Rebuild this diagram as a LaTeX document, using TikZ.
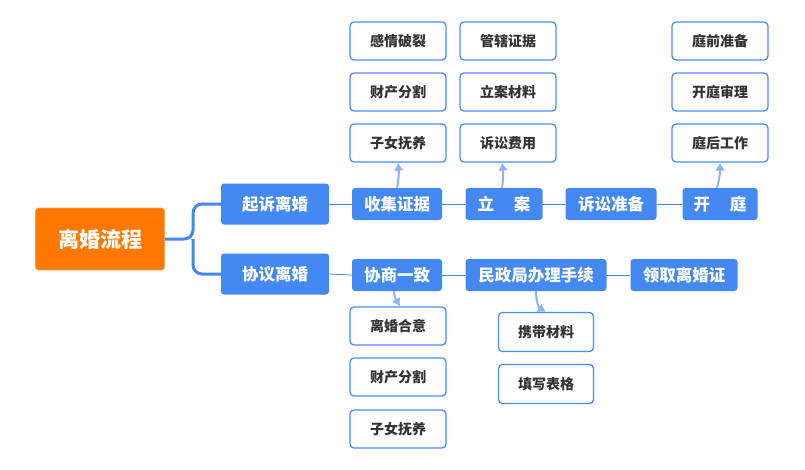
\documentclass[tikz,border=0pt]{standalone}
\usepackage{fontspec}
\setmainfont{Noto Sans CJK SC}[BoldFont={Noto Sans CJK SC Black}]
\usetikzlibrary{arrows.meta}

\definecolor{zhuLan}{HTML}{4489F2}
\definecolor{bianLan}{HTML}{4A8CF4}
\definecolor{jianLan}{HTML}{8DB2F6}
\definecolor{cheng}{HTML}{FF7800}
\definecolor{zi}{HTML}{333333}

\begin{document}
\begin{tikzpicture}[x=1pt,y=-1pt,
    every text node part/.style={align=center},
    wurzel/.style={fill=cheng,draw=cheng!70!white,line width=0.8pt,rounded corners=3pt,
      text=white,font=\fontsize{21}{24}\selectfont\bfseries,minimum width=129pt,minimum height=62pt,inner sep=0pt},
    haupt/.style={fill=zhuLan,rounded corners=3pt,text=white,
      font=\fontsize{16.5}{20}\selectfont\bfseries,minimum height=32pt,inner sep=0pt},
    unter/.style={draw=bianLan,fill=white,line width=1.3pt,rounded corners=4pt,text=zi,
      font=\fontsize{14}{17}\selectfont\bfseries,minimum width=96pt,minimum height=38pt,inner sep=0pt},
    linie/.style={zhuLan,line width=0.8pt},
    klammer/.style={zhuLan,line width=3pt,rounded corners=9pt},
    pfeil/.style={jianLan,line width=2pt,-{Latex[length=8pt,width=10pt]}}]

    \useasboundingbox (0,0) rectangle (805,469);

    \node[wurzel] (LiuCheng)  at (100,239) {离婚流程};
    \node[haupt,minimum width=108pt,minimum height=41pt] (QiSu)  at (275,204) {起诉离婚};
    \node[haupt,minimum width=108pt,minimum height=41pt] (XieYi) at (275,274) {协议离婚};
    \coordinate (Gabel) at (193,239);

    % Klage
    \node[haupt,minimum width=90pt]  (ShouJi)  at (397,204) {收集证据};
    \node[haupt,minimum width=77pt]  (LiAn)    at (504,204) {立\hspace{1.2em}案};
    \node[haupt,minimum width=91pt]  (SuSong)  at (611,204) {诉讼准备};
    \node[haupt,minimum width=75pt]  (KaiTing) at (720,204) {开\hspace{1.2em}庭};

    \node[unter] (GanQing)  at (398,41)  {感情破裂};
    \node[unter] (CaiChanA) at (398,92)  {财产分割};
    \node[unter] (ZiNvA)    at (398,143) {子女抚养};
    \node[unter] (GuanXia)  at (508,41)  {管辖证据};
    \node[unter] (CaiLiao)  at (508,92)  {立案材料};
    \node[unter] (FeiYong)  at (508,143) {诉讼费用};
    \node[unter] (TingQian) at (720,41)  {庭前准备};
    \node[unter] (ShenLi)   at (720,92)  {开庭审理};
    \node[unter] (TingHou)  at (720,143) {庭后工作};

    % Vereinbarung
    \node[haupt,minimum width=90pt]  (XieShang) at (397,275) {协商一致};
    \node[haupt,minimum width=141pt] (MinZheng) at (536,275) {民政局办理手续};
    \node[haupt,minimum width=107pt] (LingQu)   at (684,275) {领取离婚证};

    \node[unter] (HeYi)     at (398,326) {离婚合意};
    \node[unter] (CaiChanB) at (398,377) {财产分割};
    \node[unter] (ZiNvB)    at (398,429) {子女抚养};
    \node[unter,minimum width=95pt,minimum height=39pt] (XieDai) at (546,332) {携带材料};
    \node[unter,minimum width=95pt,minimum height=39pt] (TianXie) at (546,384) {填写表格};

    \draw[klammer] (LiuCheng.east) -- (Gabel) |- (QiSu.west);
    \draw[klammer] (Gabel) |- (XieYi.west);

    \draw[linie] (QiSu.east)   -- (ShouJi.west);
    \draw[linie] (ShouJi.east) -- (LiAn.west);
    \draw[linie] (LiAn.east)   -- (SuSong.west);
    \draw[linie] (SuSong.east) -- (KaiTing.west);
    \draw[linie] (XieYi.east)    -- (XieShang.west);
    \draw[linie] (XieShang.east) -- (MinZheng.west);
    \draw[linie] (MinZheng.east) -- (LingQu.west);

    \draw[pfeil] (ShouJi.north) to[bend right=8] (ZiNvA.south);
    \draw[pfeil] ([xshift=-2pt]LiAn.north) to[bend right=8] ([xshift=-6pt]FeiYong.south);
    \draw[pfeil] ([xshift=-3pt]KaiTing.north) to[bend right=8] (TingHou.south);
    \draw[pfeil] ([xshift=-3pt]XieShang.south) to[out=-90,in=120] ([xshift=2pt]HeYi.north);
    \draw[pfeil] (MinZheng.south) to[out=-90,in=150] (XieDai.north);
  \end{tikzpicture}
\end{document}
